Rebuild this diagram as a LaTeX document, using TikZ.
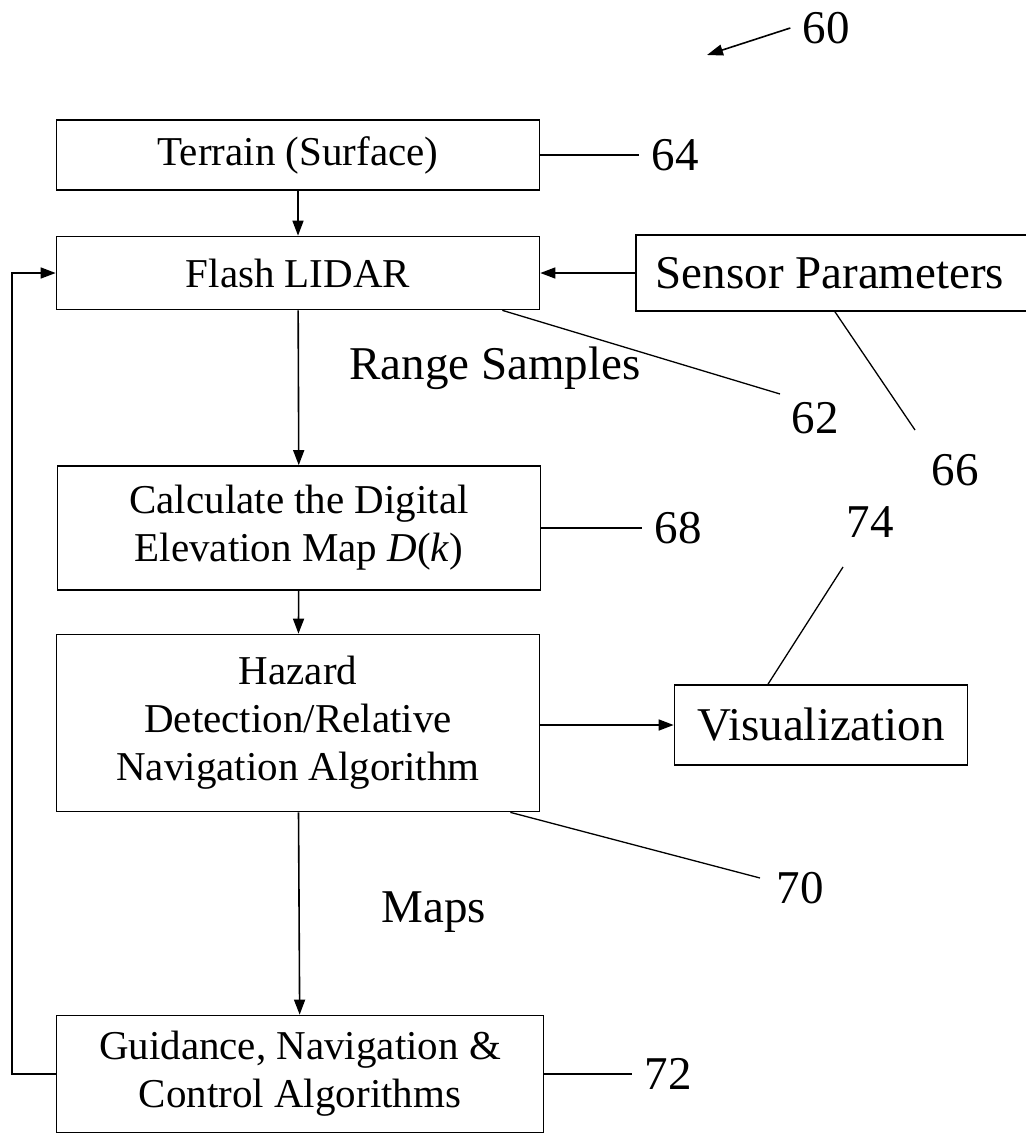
\documentclass[tikz,border=0pt]{standalone}
\usepackage{fontspec}
\setmainfont{Liberation Serif}
\usetikzlibrary{arrows.meta}
\newcommand{\boxfont}{\fontsize{41}{48}\selectfont}
\newcommand{\lblfont}{\fontsize{47}{52}\selectfont}

\begin{document}
\begin{tikzpicture}[x=1pt,y=-1pt,
  block/.style={draw,line width=1.7pt,align=center,inner sep=0pt,font=\boxfont},
  lbl/.style={font=\lblfont,inner sep=12pt},
  lead/.style={line width=1.3pt},
  flow/.style={line width=1.6pt,-{Triangle[length=15pt,width=11pt]}}]
 \useasboundingbox (0,0) rectangle (1025,1140);
 % blocks
 \node[block,minimum width=483pt,minimum height=70pt] (terrain) at (298,155) {Terrain (Surface)};
 \node[block,minimum width=483pt,minimum height=73pt] (flash) at (298,273) {Flash LIDAR};
 \node[block,minimum width=396pt,minimum height=76pt,font=\lblfont] (sensor) at (834,273) {\hspace*{-8pt}Sensor Parameters};
 \node[block,minimum width=483pt,minimum height=124pt] (calc) at (299,528) {Calculate the Digital\\Elevation Map \textit{D}(\textit{k})};
 \node[block,minimum width=483pt,minimum height=177pt] (hazard) at (298,723) {Hazard\\Detection/Relative\\Navigation Algorithm};
 \node[block,minimum width=293pt,minimum height=80pt,font=\lblfont] (vis) at (821,725) {Visualization};
 \node[block,minimum width=487pt,minimum height=117pt] (guid) at (300,1074) {Guidance, Navigation \&\\Control Algorithms};
 % flow labels
 \node[font=\lblfont] (range) at (495,368) {Range Samples};
 \node[font=\lblfont] (maps) at (434,912) {Maps};
 % reference numerals
 \node[lbl] (l60) at (826,28) {60};
 \node[lbl] (l64) at (675,155) {64};
 \node[lbl] (l62) at (815,418) {62};
 \node[lbl] (l66) at (955,470) {66};
 \node[lbl] (l68) at (678,528) {68};
 \node[lbl] (l74) at (870,522) {74};
 \node[lbl] (l70) at (800,888) {70};
 \node[lbl] (l72) at (668,1074) {72};
 \coordinate (e60) at (707,55);
 \coordinate (e62) at (780,394);
 \coordinate (e66) at (915,430);
 \coordinate (e74) at (843,567);
 \coordinate (e70) at (760,878);
 \coordinate (back) at (12,0);
 % arrows
 \draw[flow] (terrain) -- (flash);
 \draw[flow] (sensor) -- (flash);
 \draw[flow] (flash) -- (calc);
 \draw[flow] (calc) -- (hazard);
 \draw[flow] (hazard.east |- vis.west) -- (vis);
 \draw[flow] (hazard) -- (guid);
 \draw[flow] (guid.west) -- (back |- guid.west) -- (back |- flash.west) -- (flash.west);
 \draw[line width=1.6pt,-{Triangle[length=16pt,width=11pt]}] (l60.west) -- (e60);
 % leaders
 \draw[lead] (terrain.east) -- (l64.west);
 \draw[lead] ([xshift=-38pt]flash.south east) -- (e62);
 \draw[lead] ([xshift=1pt]sensor.south) -- (e66);
 \draw[lead] (calc.east) -- (l68.west);
 \draw[lead] ([xshift=-53pt]vis.north) -- (e74);
 \draw[lead] ([xshift=-30pt]hazard.south east) -- (e70);
 \draw[lead] (guid.east) -- (l72.west);
\end{tikzpicture}
\end{document}
